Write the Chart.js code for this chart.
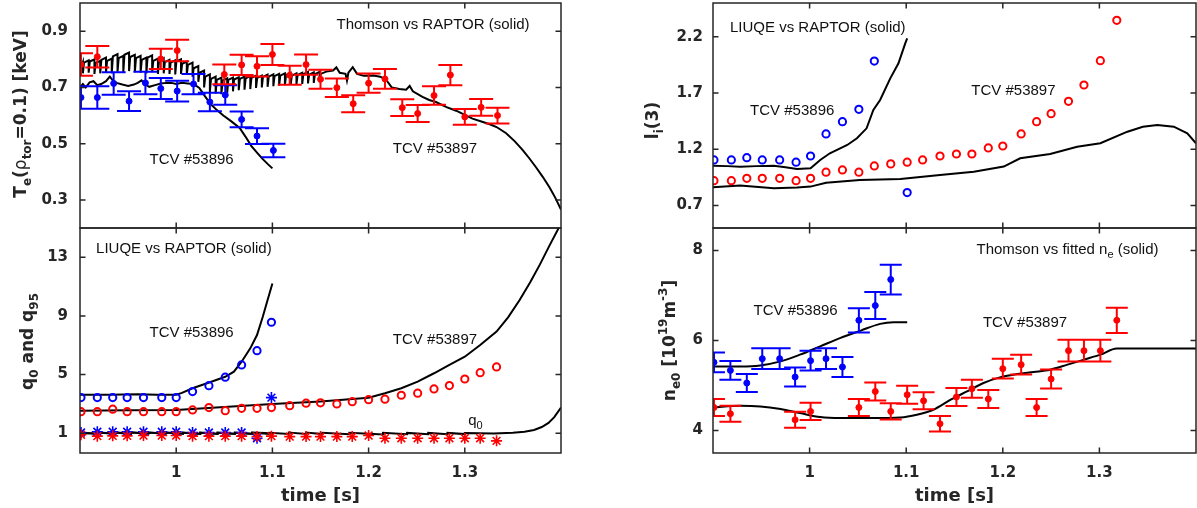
<!DOCTYPE html>
<html>
<head>
<meta charset="utf-8">
<script src="https://cdn.jsdelivr.net/npm/chart.js@4.4.1/dist/chart.umd.min.js"></script>
<style>
  html, body { margin: 0; padding: 0; background: #fff; }
  #wrap { position: relative; width: 1197px; height: 508px; overflow: hidden; }
  #wrap canvas { position: absolute; }
</style>
</head>
<body>
<div id="wrap">
  <canvas id="tePanel" width="600" height="230" style="left:0px;top:0px"></canvas>
  <canvas id="qPanel" width="600" height="282" style="left:0px;top:226px"></canvas>
  <canvas id="liPanel" width="597" height="230" style="left:600px;top:0px"></canvas>
  <canvas id="nePanel" width="597" height="282" style="left:600px;top:226px"></canvas>
</div>
<script>
// ---- ticks ----
const timeTicks = [1, 1.1, 1.2, 1.3];
const teTicks = [0.3, 0.5, 0.7, 0.9];
const qTicks = [1, 5, 9, 13];
const liTicks = [0.7, 1.2, 1.7, 2.2];
const neTicks = [4, 6, 8];

// ---- Te(rho=0.1), Thomson [keV] ----
const te96T = [0.901, 0.918, 0.935, 0.951, 0.968, 0.984, 1.001, 1.018, 1.035, 1.051, 1.068, 1.084, 1.101];
const te96 = [0.664, 0.664, 0.714, 0.651, 0.716, 0.696, 0.687, 0.712, 0.648, 0.673, 0.586, 0.527, 0.476];
const te96Err = [0.040, 0.040, 0.040, 0.035, 0.040, 0.037, 0.037, 0.036, 0.033, 0.035, 0.028, 0.028, 0.024];

const te97T = [0.901, 0.918, 0.984, 1.001, 1.050, 1.068, 1.084, 1.100, 1.118, 1.135, 1.150, 1.167, 1.184, 1.200, 1.217, 1.235, 1.251, 1.268, 1.285, 1.300, 1.317, 1.334];
const te97 = [0.781, 0.809, 0.801, 0.831, 0.746, 0.780, 0.775, 0.817, 0.743, 0.781, 0.729, 0.699, 0.642, 0.715, 0.730, 0.628, 0.607, 0.671, 0.744, 0.595, 0.629, 0.600];
const te97Err = [0.040, 0.038, 0.036, 0.038, 0.035, 0.036, 0.036, 0.037, 0.034, 0.036, 0.034, 0.033, 0.030, 0.034, 0.035, 0.030, 0.030, 0.033, 0.036, 0.028, 0.030, 0.028];

// RAPTOR Te, #53896
const teFit96T = [0.900, 0.903, 0.906, 0.910, 0.914, 0.918, 0.922, 0.927, 0.931, 0.934, 0.938, 0.944, 0.950, 0.956, 0.960, 0.964, 0.967, 0.972, 0.978, 0.984, 0.990, 0.995, 1.000, 1.006, 1.012, 1.018, 1.024, 1.030, 1.036, 1.042, 1.049, 1.057, 1.066, 1.072, 1.078, 1.084, 1.090, 1.095, 1.100];
const teFit96 = [0.700, 0.712, 0.700, 0.718, 0.722, 0.708, 0.712, 0.722, 0.738, 0.725, 0.716, 0.710, 0.705, 0.710, 0.716, 0.725, 0.712, 0.702, 0.708, 0.714, 0.716, 0.716, 0.712, 0.716, 0.714, 0.712, 0.698, 0.668, 0.640, 0.620, 0.600, 0.580, 0.556, 0.525, 0.492, 0.468, 0.445, 0.428, 0.412];

// RAPTOR Te, #53897: sawtooth crashes (peak, trough, quick recovery), then smooth tail
const teStart97 = 0.762;
const sawT97 = [0.903, 0.909, 0.915, 0.921, 0.927, 0.933, 0.939, 0.945, 0.951, 0.957, 0.963, 0.969, 0.975, 0.981, 0.987, 0.993, 0.999, 1.005, 1.011, 1.017, 1.023, 1.029, 1.035, 1.041, 1.047, 1.053, 1.059, 1.065, 1.071, 1.077, 1.083, 1.089, 1.095, 1.101, 1.107, 1.113, 1.119, 1.125, 1.131, 1.137, 1.143, 1.149];
const sawHi97 = [0.790, 0.796, 0.800, 0.794, 0.806, 0.802, 0.818, 0.812, 0.824, 0.816, 0.812, 0.806, 0.814, 0.802, 0.804, 0.798, 0.796, 0.800, 0.792, 0.788, 0.776, 0.760, 0.746, 0.738, 0.735, 0.732, 0.735, 0.736, 0.738, 0.740, 0.742, 0.742, 0.745, 0.746, 0.748, 0.750, 0.752, 0.750, 0.752, 0.755, 0.753, 0.755];
const sawLo97 = [0.750, 0.752, 0.748, 0.750, 0.752, 0.750, 0.756, 0.752, 0.758, 0.754, 0.752, 0.750, 0.754, 0.748, 0.750, 0.748, 0.746, 0.748, 0.744, 0.738, 0.720, 0.700, 0.684, 0.678, 0.676, 0.680, 0.686, 0.690, 0.692, 0.694, 0.698, 0.700, 0.702, 0.704, 0.706, 0.708, 0.710, 0.712, 0.712, 0.714, 0.716, 0.718];
const sawRecT97 = [0.9042, 0.9102, 0.9162, 0.9222, 0.9282, 0.9342, 0.9402, 0.9462, 0.9522, 0.9582, 0.9642, 0.9702, 0.9762, 0.9822, 0.9882, 0.9942, 1.0002, 1.0062, 1.0122, 1.0182, 1.0242, 1.0302, 1.0362, 1.0422, 1.0482, 1.0542, 1.0602, 1.0662, 1.0722, 1.0782, 1.0842, 1.0902, 1.0962, 1.1022, 1.1082, 1.1142, 1.1202, 1.1262, 1.1322, 1.1382, 1.1442, 1.1502];
const sawRec97 = [0.788, 0.792, 0.786, 0.798, 0.794, 0.810, 0.804, 0.816, 0.808, 0.804, 0.798, 0.806, 0.794, 0.796, 0.790, 0.788, 0.792, 0.784, 0.780, 0.768, 0.752, 0.738, 0.730, 0.727, 0.724, 0.727, 0.728, 0.730, 0.732, 0.734, 0.734, 0.737, 0.738, 0.740, 0.742, 0.744, 0.742, 0.744, 0.747, 0.745, 0.747, 0.748];
const teTail97T = [1.156, 1.163, 1.1665, 1.170, 1.176, 1.1775, 1.179, 1.1835, 1.188, 1.195, 1.205, 1.212, 1.218, 1.224, 1.232, 1.239, 1.2427, 1.246, 1.256, 1.263, 1.270, 1.281, 1.291, 1.300, 1.308, 1.318, 1.326, 1.333, 1.343, 1.352, 1.360, 1.367, 1.374, 1.381, 1.388, 1.394, 1.400];
const teTail97 = [0.756, 0.760, 0.771, 0.752, 0.748, 0.724, 0.752, 0.772, 0.748, 0.741, 0.742, 0.738, 0.728, 0.700, 0.694, 0.692, 0.705, 0.686, 0.666, 0.655, 0.648, 0.630, 0.617, 0.602, 0.589, 0.578, 0.569, 0.559, 0.537, 0.508, 0.478, 0.448, 0.416, 0.382, 0.345, 0.308, 0.266];

// ---- q0 and q95, LIUQE ----
const qT96 = [0.901, 0.918, 0.934, 0.949, 0.966, 0.985, 1.000, 1.017, 1.034, 1.051, 1.068, 1.084, 1.099];
const q95_96 = [3.43, 3.43, 3.43, 3.43, 3.43, 3.43, 3.43, 3.84, 4.24, 4.82, 5.66, 6.63, 8.57];
const q0_96 = [1.05, 1.10, 1.10, 1.10, 1.10, 1.10, 1.10, 1.05, 1.05, 1.05, 1.05, 0.66, 3.43];

const qT97 = [0.901, 0.918, 0.934, 0.949, 0.966, 0.985, 1.000, 1.017, 1.034, 1.051, 1.068, 1.084, 1.099, 1.118, 1.135, 1.150, 1.167, 1.183, 1.200, 1.217, 1.234, 1.251, 1.268, 1.284, 1.300, 1.316, 1.333];
const q95_97 = [2.47, 2.47, 2.64, 2.47, 2.47, 2.47, 2.47, 2.59, 2.75, 2.54, 2.70, 2.70, 2.75, 2.88, 3.05, 3.07, 3.00, 3.15, 3.29, 3.32, 3.59, 3.73, 4.02, 4.25, 4.70, 5.13, 5.52];
const q0_97 = [0.90, 0.80, 0.82, 0.82, 0.84, 0.84, 0.84, 0.80, 0.80, 0.80, 0.80, 0.78, 0.80, 0.77, 0.77, 0.77, 0.77, 0.77, 0.84, 0.66, 0.66, 0.66, 0.66, 0.66, 0.66, 0.66, 0.48];

// RAPTOR q95
const q95Fit96T = [0.900, 0.930, 0.960, 0.980, 1.000, 1.006, 1.017, 1.035, 1.051, 1.060, 1.068, 1.077, 1.084, 1.090, 1.095, 1.100];
const q95Fit96 = [3.63, 3.63, 3.66, 3.62, 3.62, 3.75, 4.07, 4.48, 4.85, 5.20, 5.88, 6.79, 7.70, 8.95, 10.09, 11.22];
const q95Fit97T = [0.900, 0.950, 1.000, 1.050, 1.100, 1.150, 1.200, 1.217, 1.234, 1.251, 1.268, 1.284, 1.300, 1.316, 1.333, 1.345, 1.357, 1.368, 1.378, 1.388, 1.400];
const q95Fit97 = [2.54, 2.56, 2.59, 2.78, 3.00, 3.17, 3.42, 3.73, 4.07, 4.52, 5.09, 5.66, 6.22, 7.02, 7.93, 8.90, 10.09, 11.30, 12.50, 13.80, 15.30];

// RAPTOR q0 (small sawtooth jumps)
const q0Fit96T = [0.900, 0.917, 0.917, 0.935, 0.935, 0.953, 0.953, 0.971, 0.971, 0.989, 0.989, 1.007, 1.007, 1.025, 1.025, 1.043, 1.043, 1.061, 1.061, 1.079, 1.079, 1.100];
const q0Fit96 = [1.03, 0.98, 1.06, 0.98, 1.06, 0.98, 1.06, 0.98, 1.05, 0.98, 1.05, 0.97, 1.05, 0.97, 1.05, 0.97, 1.05, 0.97, 1.05, 0.97, 1.05, 0.99];
const q0Fit97T = [0.900, 0.917, 0.917, 0.935, 0.935, 0.953, 0.953, 0.971, 0.971, 0.989, 0.989, 1.007, 1.007, 1.025, 1.025, 1.043, 1.043, 1.061, 1.061, 1.079, 1.079, 1.097, 1.097, 1.117, 1.117, 1.135, 1.135, 1.152, 1.152, 1.180, 1.180, 1.215, 1.215, 1.240, 1.240, 1.262, 1.262, 1.282, 1.282, 1.300, 1.300, 1.330, 1.350, 1.362, 1.372, 1.380, 1.387, 1.393, 1.400];
const q0Fit97 = [1.02, 0.97, 1.05, 0.97, 1.05, 0.96, 1.04, 0.96, 1.04, 0.96, 1.04, 0.96, 1.03, 0.95, 1.03, 0.95, 1.03, 0.95, 1.03, 0.95, 1.03, 0.95, 1.03, 0.95, 1.04, 0.95, 1.04, 0.94, 1.03, 0.93, 1.03, 0.92, 1.03, 0.93, 1.02, 0.93, 1.02, 0.93, 1.02, 0.94, 1.02, 0.98, 1.03, 1.10, 1.22, 1.42, 1.70, 2.10, 2.75];

// ---- li(3) ----
const liT96 = [0.901, 0.919, 0.935, 0.951, 0.969, 0.986, 1.001, 1.017, 1.034, 1.051, 1.067, 1.101];
const li96 = [1.105, 1.105, 1.125, 1.105, 1.105, 1.085, 1.140, 1.336, 1.445, 1.555, 1.984, 0.815];
const liT97 = [0.901, 0.919, 0.935, 0.951, 0.969, 0.986, 1.001, 1.017, 1.034, 1.051, 1.067, 1.084, 1.101, 1.117, 1.135, 1.152, 1.168, 1.185, 1.200, 1.219, 1.235, 1.250, 1.268, 1.284, 1.301, 1.318];
const li97 = [0.921, 0.921, 0.942, 0.942, 0.942, 0.921, 0.942, 0.996, 1.016, 0.996, 1.052, 1.070, 1.085, 1.105, 1.140, 1.158, 1.158, 1.212, 1.229, 1.336, 1.445, 1.516, 1.626, 1.771, 1.987, 2.346];
const liFit96T = [0.900, 0.915, 0.928, 0.945, 0.963, 0.975, 0.987, 1.001, 1.011, 1.021, 1.039, 1.049, 1.059, 1.066, 1.073, 1.0835, 1.092, 1.099, 1.101];
const liFit96 = [1.054, 1.050, 1.045, 1.050, 1.054, 1.040, 1.025, 1.031, 1.105, 1.164, 1.238, 1.298, 1.386, 1.549, 1.638, 1.830, 1.964, 2.141, 2.186];
const liFit97T = [0.900, 0.928, 0.963, 0.987, 1.001, 1.017, 1.052, 1.094, 1.135, 1.170, 1.201, 1.218, 1.249, 1.277, 1.301, 1.329, 1.345, 1.360, 1.377, 1.391, 1.400];
const liFit97 = [0.862, 0.877, 0.854, 0.859, 0.868, 0.903, 0.927, 0.936, 0.972, 1.001, 1.046, 1.120, 1.158, 1.223, 1.253, 1.356, 1.400, 1.416, 1.401, 1.342, 1.253];

// ---- ne0 [1e19 m^-3] ----
const neT96 = [0.901, 0.918, 0.935, 0.951, 0.969, 0.985, 1.001, 1.017, 1.034, 1.051, 1.068, 1.084];
const ne96 = [5.514, 5.336, 5.055, 5.596, 5.596, 5.189, 5.552, 5.596, 5.411, 6.449, 6.776, 7.355];
const ne96Err = [0.22, 0.21, 0.20, 0.23, 0.23, 0.21, 0.22, 0.23, 0.22, 0.27, 0.30, 0.33];
const neT97 = [0.901, 0.918, 0.985, 1.001, 1.051, 1.068, 1.084, 1.101, 1.118, 1.135, 1.152, 1.168, 1.185, 1.200, 1.219, 1.235, 1.250, 1.268, 1.284, 1.301, 1.318];
const ne97 = [4.512, 4.372, 4.239, 4.424, 4.512, 4.868, 4.424, 4.795, 4.661, 4.150, 4.744, 4.929, 4.700, 5.374, 5.463, 4.512, 5.144, 5.774, 5.774, 5.774, 6.449];
const ne97Err = [0.19, 0.18, 0.18, 0.19, 0.19, 0.20, 0.18, 0.20, 0.19, 0.17, 0.20, 0.20, 0.20, 0.22, 0.22, 0.19, 0.21, 0.24, 0.24, 0.24, 0.28];
const neFit96T = [0.900, 0.928, 0.949, 0.970, 0.990, 1.011, 1.032, 1.053, 1.073, 1.087, 1.101];
const neFit96 = [5.425, 5.425, 5.447, 5.536, 5.685, 5.870, 6.057, 6.220, 6.370, 6.404, 6.404];
const neFit97T = [0.900, 0.928, 0.949, 0.970, 0.990, 1.011, 1.032, 1.066, 1.094, 1.111, 1.128, 1.146, 1.163, 1.180, 1.197, 1.215, 1.232, 1.249, 1.267, 1.284, 1.301, 1.318, 1.400];
const neFit97 = [4.512, 4.550, 4.535, 4.476, 4.387, 4.298, 4.276, 4.276, 4.289, 4.350, 4.461, 4.684, 4.870, 5.055, 5.180, 5.256, 5.300, 5.350, 5.463, 5.574, 5.685, 5.820, 5.820];

// ---- styling ----
const RED = '#ff0000';
const BLUE = '#0000ff';
const AXIS = '#262626';
const TICK_LEN = 5.5;
const SANS = '"Liberation Sans", Arial, sans-serif';
Chart.defaults.font.family = '"DejaVu Sans", sans-serif';

const pts = (xs, ys) => xs.map((x, i) => ({ x, y: ys[i] }));
const errPts = (xs, ys, es) => xs.map((x, i) => ({ x, y: ys[i], e: es[i] }));

function sawLine(t0, v0, ts, hi, lo, recT, rec, tailT, tail) {
  const out = [{ x: t0, y: v0 }];
  ts.forEach((t, i) => { out.push({ x: t, y: hi[i] }, { x: t, y: lo[i] }, { x: recT[i], y: rec[i] }); });
  return out.concat(pts(tailT, tail));
}

function fitLine(data, smooth) {
  return {
    data, showLine: true, borderColor: '#000', borderWidth: 2, pointRadius: 0,
    clip: 0, cubicInterpolationMode: smooth ? 'monotone' : 'default', tension: 0
  };
}
function errSeries(data, color, cap) {
  return {
    data, errCap: cap, errColor: color, pointRadius: 3, pointStyle: 'circle',
    pointBackgroundColor: color, pointBorderColor: color, pointBorderWidth: 1
  };
}
function ringSeries(data, color) {
  return {
    data, pointRadius: 3.6, pointStyle: 'circle',
    pointBackgroundColor: 'rgba(0,0,0,0)', pointBorderColor: color, pointBorderWidth: 2
  };
}
function starSeries(data, color) {
  return {
    data, pointRadius: 5.5, pointStyle: 'star',
    pointBackgroundColor: color, pointBorderColor: color, pointBorderWidth: 1.6
  };
}

// rich text: runs of [text, 'sub'|'sup'|'', weight]
function runFont(r, size, weight, family) {
  const s = r[1] ? Math.round(size * 0.72) : size;
  return (r[2] || weight) + ' ' + s + 'px ' + family;
}
function drawRuns(ctx, runs, cx, baseY, size, weight, family) {
  let w = 0;
  runs.forEach(r => { ctx.font = runFont(r, size, weight, family); w += ctx.measureText(r[0]).width; });
  let px = cx - w / 2;
  ctx.textAlign = 'left';
  ctx.textBaseline = 'alphabetic';
  runs.forEach(r => {
    ctx.font = runFont(r, size, weight, family);
    const dy = r[1] === 'sub' ? size * 0.3 : r[1] === 'sup' ? -size * 0.45 : 0;
    ctx.fillText(r[0], px, baseY + dy);
    px += ctx.measureText(r[0]).width;
  });
}

// y labels and in-plot notes, per panel
const panelText = {
  tePanel: {
    title: [['T'], ['e', 'sub'], ['('], ['\u03c1', '', 'normal'], ['tor', 'sub'], ['=0.1) [keV]']],
    base: 26, shift: -1.5,
    notes: [
      { x: 1.267, y: 0.928, runs: [['Thomson vs RAPTOR (solid)']] },
      { x: 1.016, y: 0.446, runs: [['TCV #53896']] },
      { x: 1.269, y: 0.488, runs: [['TCV #53897']] }
    ]
  },
  qPanel: {
    title: [['q'], ['0', 'sub'], [' and q'], ['95', 'sub']],
    base: 33, shift: 1,
    notes: [
      { x: 1.008, y: 13.65, runs: [['LIUQE vs RAPTOR (solid)']] },
      { x: 1.016, y: 7.93, runs: [['TCV #53896']] },
      { x: 1.269, y: 7.48, runs: [['TCV #53897']] },
      { x: 1.311, y: 1.95, runs: [['q'], ['0', 'sub']] }
    ]
  },
  liPanel: {
    title: [['l'], ['i', 'sub'], ['(3)']],
    base: 58, shift: 5,
    notes: [
      { x: 1.0085, y: 2.289, runs: [['LIUQE vs RAPTOR (solid)']] },
      { x: 0.982, y: 1.555, runs: [['TCV #53896']] },
      { x: 1.211, y: 1.735, runs: [['TCV #53897']] }
    ]
  },
  nePanel: {
    title: [['n'], ['e0', 'sub'], [' [10'], ['19', 'sup'], ['m'], ['-3', 'sup'], [']']],
    base: 75, shift: 0,
    notes: [
      { x: 1.267, y: 8.045, runs: [['Thomson vs fitted n'], ['e', 'sub'], [' (solid)']] },
      { x: 0.9855, y: 6.687, runs: [['TCV #53896']] },
      { x: 1.223, y: 6.426, runs: [['TCV #53897']] }
    ]
  }
};

// vertical error bars with caps, clipped to the axes box
const errorBars = {
  id: 'errorBars',
  afterDatasetDraw(chart, args) {
    const ds = chart.data.datasets[args.index];
    if (!ds.errCap) return;
    const { ctx, chartArea: a, scales: { x, y } } = chart;
    ctx.save();
    ctx.beginPath();
    ctx.rect(a.left, a.top, a.width, a.height);
    ctx.clip();
    ctx.strokeStyle = ds.errColor;
    ctx.lineWidth = 2;
    ctx.beginPath();
    ds.data.forEach(p => {
      const px = x.getPixelForValue(p.x);
      const hi = y.getPixelForValue(p.y + p.e);
      const lo = y.getPixelForValue(p.y - p.e);
      ctx.moveTo(px, hi); ctx.lineTo(px, lo);
      ctx.moveTo(px - ds.errCap, hi); ctx.lineTo(px + ds.errCap, hi);
      ctx.moveTo(px - ds.errCap, lo); ctx.lineTo(px + ds.errCap, lo);
    });
    ctx.stroke();
    ctx.restore();
  }
};

// boxed axes with inward ticks on all sides, y label and notes
const frame = {
  id: 'frame',
  afterDraw(chart) {
    const { ctx, chartArea: a, scales: { x, y } } = chart;
    const txt = panelText[chart.canvas.id];
    ctx.save();
    ctx.strokeStyle = AXIS;
    ctx.lineWidth = 1.5;
    ctx.strokeRect(a.left, a.top, a.width, a.height);
    ctx.beginPath();
    x.ticks.forEach(t => {
      const px = x.getPixelForValue(t.value);
      ctx.moveTo(px, a.bottom); ctx.lineTo(px, a.bottom - TICK_LEN);
      ctx.moveTo(px, a.top); ctx.lineTo(px, a.top + TICK_LEN);
    });
    y.ticks.forEach(t => {
      const py = y.getPixelForValue(t.value);
      ctx.moveTo(a.left, py); ctx.lineTo(a.left + TICK_LEN, py);
      ctx.moveTo(a.right, py); ctx.lineTo(a.right - TICK_LEN, py);
    });
    ctx.stroke();

    ctx.fillStyle = AXIS;
    ctx.save();
    ctx.translate(txt.base, (a.top + a.bottom) / 2 + txt.shift);
    ctx.rotate(-Math.PI / 2);
    drawRuns(ctx, txt.title, 0, 0, 17, 'bold', '"DejaVu Sans", sans-serif');
    ctx.restore();

    ctx.fillStyle = '#111';
    txt.notes.forEach(n => {
      drawRuns(ctx, n.runs, x.getPixelForValue(n.x), y.getPixelForValue(n.y) + 5.5, 15, 'normal', SANS);
    });
    ctx.restore();
  }
};

function makePanel(id, cfg) {
  return new Chart(document.getElementById(id), {
    type: 'scatter',
    data: { datasets: cfg.datasets },
    options: {
      responsive: false,
      animation: false,
      events: [],
      layout: { padding: cfg.pad, autoPadding: false },
      plugins: { legend: { display: false }, tooltip: { enabled: false } },
      scales: {
        x: {
          type: 'linear', min: 0.9, max: 1.4,
          afterBuildTicks: s => { s.ticks = timeTicks.map(v => ({ value: v })); },
          afterFit: s => { s.height = cfg.xHeight; s.paddingLeft = 0; s.paddingRight = 0; },
          grid: { display: false, drawTicks: false }, border: { display: false },
          ticks: {
            display: cfg.showTime, autoSkip: false, maxRotation: 0, padding: 11, color: AXIS,
            font: { size: 15, weight: 'bold' }, callback: v => String(+v.toFixed(2))
          },
          title: {
            display: cfg.showTime, text: 'time [s]', color: AXIS,
            font: { size: 18, weight: 'bold' }, padding: { top: 0, bottom: 1 }
          }
        },
        y: {
          type: 'linear', min: cfg.yMin, max: cfg.yMax,
          afterBuildTicks: s => { s.ticks = cfg.yTicks.map(v => ({ value: v })); },
          afterFit: s => { s.width = cfg.yWidth; s.paddingTop = 0; s.paddingBottom = 0; },
          grid: { display: false, drawTicks: false }, border: { display: false },
          ticks: {
            autoSkip: false, padding: cfg.yPad, color: AXIS,
            font: { size: 15, weight: 'bold' }, callback: v => String(+v.toFixed(2))
          }
        }
      }
    },
    plugins: [errorBars, frame]
  });
}

makePanel('tePanel', {
  yMin: 0.2, yMax: 1.0, yTicks: teTicks, yWidth: 80, yPad: 12, xHeight: 2, showTime: false,
  pad: { top: 3, right: 39, left: 0, bottom: 0 },
  datasets: [
    errSeries(errPts(te97T, te97, te97Err), RED, 12),
    errSeries(errPts(te96T, te96, te96Err), BLUE, 12),
    fitLine(sawLine(0.900, teStart97, sawT97, sawHi97, sawLo97, sawRecT97, sawRec97, teTail97T, teTail97)),
    fitLine(pts(teFit96T, teFit96))
  ]
});

makePanel('qPanel', {
  yMin: -0.35, yMax: 15, yTicks: qTicks, yWidth: 80, yPad: 12, xHeight: 55, showTime: true,
  pad: { top: 2, right: 39, left: 0, bottom: 0 },
  datasets: [
    starSeries(pts(qT97, q0_97), RED),
    starSeries(pts(qT96, q0_96), BLUE),
    ringSeries(pts(qT97, q95_97), RED),
    ringSeries(pts(qT96, q95_96), BLUE),
    fitLine(pts(q0Fit97T, q0Fit97)),
    fitLine(pts(q0Fit96T, q0Fit96)),
    fitLine(pts(q95Fit97T, q95Fit97)),
    fitLine(pts(q95Fit96T, q95Fit96))
  ]
});

makePanel('liPanel', {
  yMin: 0.5, yMax: 2.5, yTicks: liTicks, yWidth: 113, yPad: 10, xHeight: 2, showTime: false,
  pad: { top: 3, right: 1, left: 0, bottom: 0 },
  datasets: [
    ringSeries(pts(liT97, li97), RED),
    ringSeries(pts(liT96, li96), BLUE),
    fitLine(pts(liFit97T, liFit97)),
    fitLine(pts(liFit96T, liFit96))
  ]
});

makePanel('nePanel', {
  yMin: 3.5, yMax: 8.5, yTicks: neTicks, yWidth: 113, yPad: 10, xHeight: 55, showTime: true,
  pad: { top: 2, right: 1, left: 0, bottom: 0 },
  datasets: [
    errSeries(errPts(neT97, ne97, ne97Err), RED, 11),
    errSeries(errPts(neT96, ne96, ne96Err), BLUE, 11),
    fitLine(pts(neFit97T, neFit97), true),
    fitLine(pts(neFit96T, neFit96), true)
  ]
});
</script>
</body>
</html>
